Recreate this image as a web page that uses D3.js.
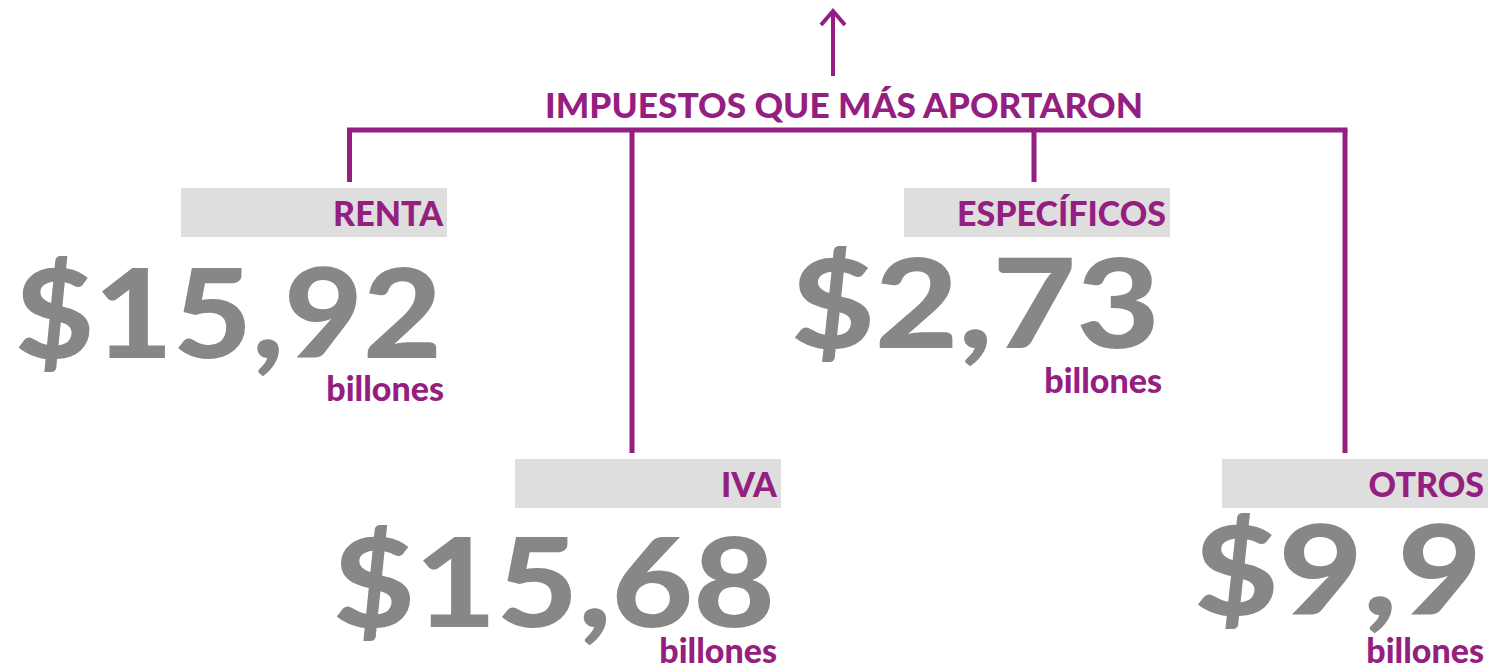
<!DOCTYPE html>
<html>
<head>
<meta charset="utf-8">
<script src="https://cdn.jsdelivr.net/npm/d3@7"></script>
<style>
  body { margin: 0; background: #fff; }
  svg text { font-family: Lato, "Open Sans", sans-serif; }
</style>
</head>
<body>
<div id="chart"></div>
<script>
// data
const title = "IMPUESTOS QUE MÁS APORTARON";
const categories = ["RENTA", "IVA", "ESPECÍFICOS", "OTROS"];
const values = [15.92, 15.68, 2.73, 9.9];
const unit = "billones";

const width = 1502, height = 670;
const purple = "#941f80", gray = "#878787", boxGray = "#dedede";

// number format with comma as decimal separator
const locale = d3.formatLocale({ decimal: ",", thousands: ".", grouping: [3], currency: ["$", ""] });
const fmt = locale.format("$~g");

// layout scales (category -> position)
const boxRight = d3.scaleOrdinal(categories, [447, 781, 1170, 1488]);
const boxTop = d3.scaleOrdinal(categories, [188, 459, 188, 459]);
const dropX = d3.scaleOrdinal(categories, [349.5, 632, 1034, 1345]);
const numLeft = d3.scaleOrdinal(categories, [15, 333, 791, 1194]);
const numRight = d3.scaleOrdinal(categories, [442, 775, 1160, 1482]);
const numBase = d3.scaleOrdinal(categories, [358, 627, 348, 615]);
const unitBase = d3.scaleOrdinal(categories, [401, 663, 393, 663]);
const boxW = 266, boxH = 49;

const svg = d3.select("#chart")
  .append("svg")
  .attr("width", width)
  .attr("height", height);

const rows = categories.map((c, i) => ({ cat: c, value: values[i] }));

// arrow on top
svg.append("line")
  .attr("x1", 833).attr("x2", 833)
  .attr("y1", 76).attr("y2", 11)
  .attr("stroke", purple).attr("stroke-width", 4);
svg.append("path")
  .attr("d", "M821,25 L833,11 L845,25")
  .attr("fill", "none")
  .attr("stroke", purple).attr("stroke-width", 4);

// title
svg.append("text")
  .attr("x", 844).attr("y", 118)
  .attr("text-anchor", "middle")
  .attr("font-size", 34).attr("font-weight", 900)
  .attr("fill", purple)
  .attr("textLength", 598).attr("lengthAdjust", "spacingAndGlyphs")
  .text(title);

// horizontal connector
const yBar = 130;
svg.append("line")
  .attr("x1", d3.min(categories, dropX) - 2.5).attr("x2", d3.max(categories, dropX) + 2.5)
  .attr("y1", yBar).attr("y2", yBar)
  .attr("stroke", purple).attr("stroke-width", 5);

// drops
svg.selectAll("line.drop")
  .data(rows)
  .enter()
  .append("line")
    .attr("class", "drop")
    .attr("x1", d => dropX(d.cat)).attr("x2", d => dropX(d.cat))
    .attr("y1", yBar)
    .attr("y2", d => boxTop(d.cat) - 6)
    .attr("stroke", purple).attr("stroke-width", 5);

const g = svg.selectAll("g.item")
  .data(rows)
  .enter()
  .append("g")
    .attr("class", "item");

// label boxes
g.append("rect")
  .attr("x", d => boxRight(d.cat) - boxW)
  .attr("y", d => boxTop(d.cat))
  .attr("width", boxW).attr("height", boxH)
  .attr("fill", boxGray);

g.append("text")
  .attr("x", d => boxRight(d.cat) - 4)
  .attr("y", d => boxTop(d.cat) + 38)
  .attr("text-anchor", "end")
  .attr("font-size", 34).attr("font-weight", 900)
  .attr("fill", purple)
  .text(d => d.cat);

// big values
g.append("text")
  .attr("x", d => numLeft(d.cat))
  .attr("y", d => numBase(d.cat))
  .attr("font-size", 124).attr("font-weight", 900)
  .attr("fill", gray)
  .attr("textLength", d => numRight(d.cat) - numLeft(d.cat))
  .attr("lengthAdjust", "spacingAndGlyphs")
  .text(d => fmt(d.value));

// unit
g.append("text")
  .attr("x", d => numRight(d.cat) + 2)
  .attr("y", d => unitBase(d.cat))
  .attr("text-anchor", "end")
  .attr("font-size", 34).attr("font-weight", 900)
  .attr("fill", purple)
  .text(unit);
</script>
</body>
</html>
